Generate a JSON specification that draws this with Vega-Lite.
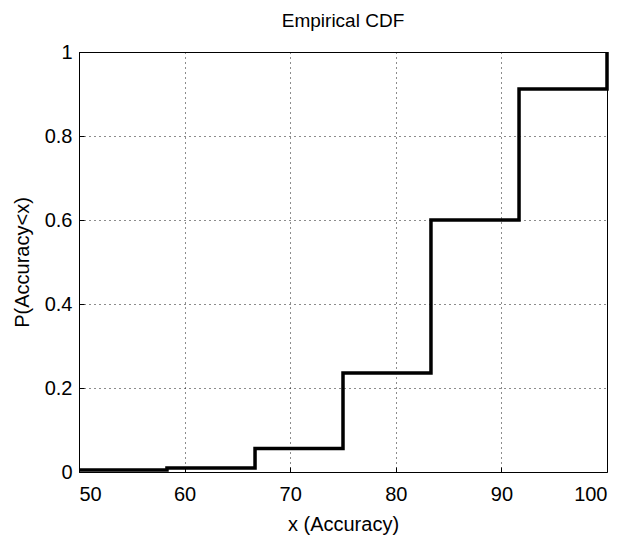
{
  "$schema": "https://vega.github.io/schema/vega-lite/v6.json",
  "width": 528,
  "height": 420,
  "autosize": {"type": "none"},
  "padding": {"left": 79, "top": 52, "right": 20, "bottom": 63},
  "background": "white",
  "title": {"text": "Empirical CDF", "font": "Liberation Sans", "fontSize": 19, "fontWeight": "normal", "color": "black", "offset": 11},
  "data": {"values": [
    {"x": 50, "p": 0.005},
    {"x": 58.33, "p": 0.0095},
    {"x": 66.67, "p": 0.056},
    {"x": 75, "p": 0.236},
    {"x": 83.33, "p": 0.6},
    {"x": 91.67, "p": 0.912},
    {"x": 100, "p": 1}
  ]},
  "mark": {"type": "line", "interpolate": "step-after", "color": "black", "strokeWidth": 3.5, "clip": false},
  "encoding": {
    "x": {"field": "x", "type": "quantitative", "scale": {"domain": [50, 100], "nice": false, "zero": false},
      "axis": {"title": "x (Accuracy)", "values": [50, 60, 70, 80, 90, 100], "ticks": true, "tickSize": -5, "labelPadding": 17, "titlePadding": 10}},
    "y": {"field": "p", "type": "quantitative", "scale": {"domain": [0, 1], "nice": false},
      "axis": {"title": "P(Accuracy<x)", "values": [0, 0.2, 0.4, 0.6, 0.8, 1], "format": "~g", "ticks": true, "tickSize": -5, "labelPadding": 12, "titlePadding": 12}}
  },
  "config": {
    "view": {"stroke": "black", "strokeWidth": 1},
    "axis": {
      "domain": false,
      "grid": true,
      "gridColor": "black",
      "gridDash": [1, 4],
      "gridWidth": 1,
      "gridOpacity": 0.9,
      "tickColor": "black",
      "tickWidth": 1,
      "labelFont": "Liberation Sans",
      "labelFontSize": 20,
      "labelColor": "black",
      "titleFont": "Liberation Sans",
      "titleFontSize": 20,
      "titleFontWeight": "normal",
      "titleColor": "black"
    }
  }
}
